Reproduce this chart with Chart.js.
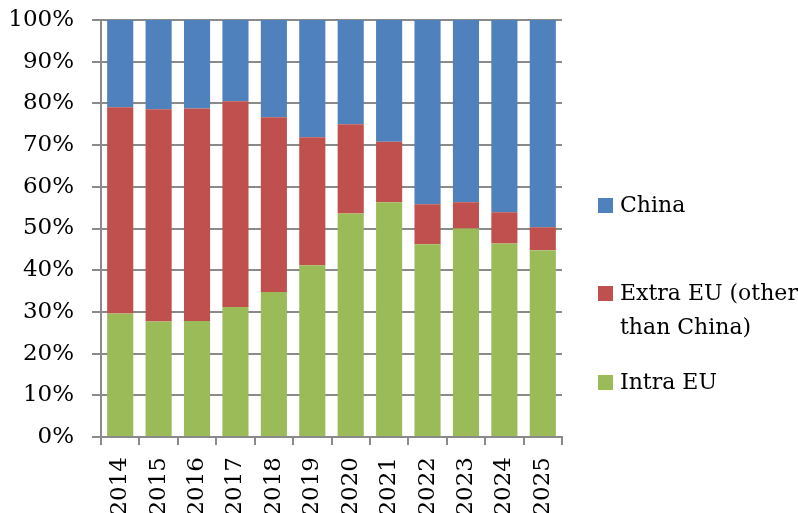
<!DOCTYPE html>
<html>
<head>
<meta charset="utf-8">
<script src="https://cdn.jsdelivr.net/npm/chart.js@4"></script>
<style>
  body { margin: 0; background: #fff; }
  #wrap { position: relative; width: 798px; height: 513px; }
  #legend { position: absolute; left: 598px; top: 0; font-family: "DejaVu Serif", serif; font-size: 22px; color: #000; }
  .item { position: absolute; left: 0; white-space: nowrap; line-height: 34px; }
  .item span.box { position: absolute; left: 0; top: 10px; width: 15px; height: 15px; }
  .item div { margin-left: 22px; }
</style>
</head>
<body>
<div id="wrap">
  <canvas id="chart" width="798" height="513"></canvas>
  <div id="legend"></div>
</div>
<script>
const years = ["2014", "2015", "2016", "2017", "2018", "2019", "2020", "2021", "2022", "2023", "2024", "2025"];
const intraEU = [29.6, 27.7, 27.8, 31.2, 34.8, 41.2, 53.6, 56.3, 46.2, 50.0, 46.4, 44.8];
const extraEU = [49.5, 50.9, 51.0, 49.3, 41.9, 30.7, 21.4, 14.5, 9.6, 6.3, 7.5, 5.5];
const china = [20.9, 21.4, 21.2, 19.5, 23.3, 28.1, 25.0, 29.2, 44.2, 43.7, 46.1, 49.7];
const yTicks = [0, 10, 20, 30, 40, 50, 60, 70, 80, 90, 100];

const colors = { intra: "#9BBB59", extra: "#C0504D", china: "#4F81BD" };
const gridColor = "#8a8a8a";
const font = { family: "'DejaVu Serif', serif", size: 23 };

const ctx = document.getElementById("chart").getContext("2d");
new Chart(ctx, {
    type: "bar",
    data: {
        labels: years,
        datasets: [
            { label: "Intra EU", data: intraEU, backgroundColor: colors.intra },
            { label: "Extra EU (other than China)", data: extraEU, backgroundColor: colors.extra },
            { label: "China", data: china, backgroundColor: colors.china },
        ],
    },
    options: {
        responsive: false,
        animation: false,
        layout: { padding: { top: 20, right: 236, left: 0, bottom: 0 } },
        datasets: { bar: { categoryPercentage: 1, barPercentage: 0.68, borderWidth: 0 } },
        plugins: { legend: { display: false }, tooltip: { enabled: false } },
        scales: {
            x: {
                stacked: true,
                grid: { offset: true, drawOnChartArea: false, color: gridColor, lineWidth: 2, tickLength: 8 },
                border: { color: gridColor, width: 2 },
                ticks: { font: font, color: "#000", minRotation: 90, maxRotation: 90, padding: 12, autoSkip: false },
                afterFit: (axis) => {
                    axis.height = 76;
                    axis.paddingLeft = 0;
                    axis.paddingRight = 0;
                },
            },
            y: {
                stacked: true,
                min: 0,
                max: 100,
                afterBuildTicks: (axis) => { axis.ticks = yTicks.map((v) => ({ value: v })); },
                grid: { color: gridColor, lineWidth: 2, tickLength: 9 },
                border: { color: gridColor, width: 2 },
                ticks: { font: font, color: "#000", padding: 18, callback: (v) => v + "%" },
                afterFit: (axis) => {
                    axis.width = 101;
                    axis.paddingTop = 0;
                    axis.paddingBottom = 0;
                },
            },
        },
    },
});

// legend, top entry first
const legendItems = [
    { text: ["China"], color: colors.china, top: 188 },
    { text: ["Extra EU (other", "than China)"], color: colors.extra, top: 276 },
    { text: ["Intra EU"], color: colors.intra, top: 365 },
];
const legend = document.getElementById("legend");
legendItems.forEach((it) => {
    const el = document.createElement("div");
    el.className = "item";
    el.style.top = it.top + "px";
    el.innerHTML = '<span class="box" style="background:' + it.color + '"></span><div>' + it.text.join("<br>") + "</div>";
    legend.appendChild(el);
});
</script>
</body>
</html>
